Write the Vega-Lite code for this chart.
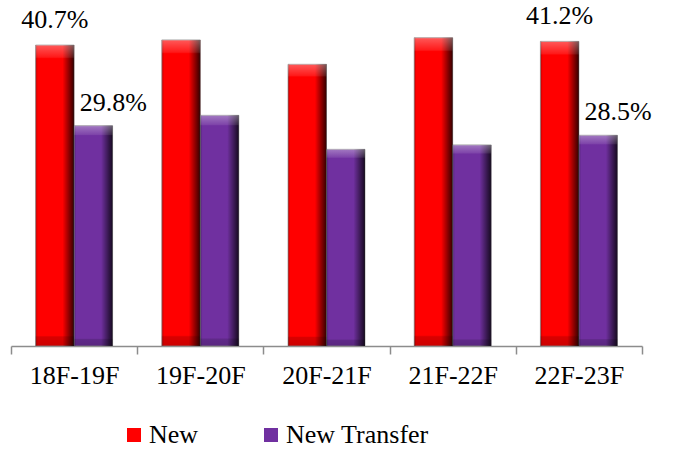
{
  "$schema": "https://vega.github.io/schema/vega-lite/v6.json",
  "width": 631,
  "height": 346,
  "autosize": {"type": "none"},
  "padding": {"left": 11, "top": 0, "right": 33, "bottom": 104},
  "background": "white",
  "config": {"view": {"stroke": null}, "font": "Liberation Serif"},
  "data": {
    "values": [
      {"period": "18F-19F", "series": "New", "value": 0.407},
      {"period": "18F-19F", "series": "New Transfer", "value": 0.298},
      {"period": "19F-20F", "series": "New", "value": 0.414},
      {"period": "19F-20F", "series": "New Transfer", "value": 0.312},
      {"period": "20F-21F", "series": "New", "value": 0.381},
      {"period": "20F-21F", "series": "New Transfer", "value": 0.266},
      {"period": "21F-22F", "series": "New", "value": 0.417},
      {"period": "21F-22F", "series": "New Transfer", "value": 0.272},
      {"period": "22F-23F", "series": "New", "value": 0.412},
      {"period": "22F-23F", "series": "New Transfer", "value": 0.285}
    ]
  },
  "encoding": {
    "x": {
      "field": "period",
      "type": "nominal",
      "sort": null,
      "scale": {"paddingInner": 0, "paddingOuter": 0},
      "axis": {
        "title": null,
        "grid": false,
        "domainColor": "#8c8c8c",
        "domainWidth": 1.5,
        "tickColor": "#8c8c8c",
        "tickWidth": 1.5,
        "tickSize": 8,
        "tickBand": "extent",
        "labelFont": "Liberation Serif",
        "labelFontSize": 26,
        "labelColor": "black",
        "labelPadding": 8,
        "labelAngle": 0
      }
    },
    "xOffset": {
      "field": "series",
      "type": "nominal",
      "sort": ["New", "New Transfer"],
      "scale": {"paddingInner": 0, "paddingOuter": 0.639}
    },
    "y": {
      "field": "value",
      "type": "quantitative",
      "scale": {"domain": [0, 0.468], "nice": false},
      "axis": null
    }
  },
  "layer": [
    {
      "mark": {"type": "bar", "stroke": "#9a9a9a", "strokeWidth": 0.8},
      "encoding": {
        "color": {
          "field": "series",
          "type": "nominal",
          "scale": {"domain": ["New", "New Transfer"], "range": ["#FF0000", "#7030A0"]},
          "legend": {
            "title": null,
            "orient": "none",
            "legendX": 110,
            "legendY": 422,
            "direction": "horizontal",
            "symbolType": "square",
            "symbolSize": 196,
            "symbolStrokeWidth": 0,
            "labelFont": "Liberation Serif",
            "labelFontSize": 26,
            "labelColor": "black",
            "labelOffset": 2,
            "columnPadding": 59,
            "labelLimit": 0
          }
        }
      }
    },
    {
      "mark": {
        "type": "bar",
        "color": {
          "gradient": "linear",
          "x1": 0, "x2": 1, "y1": 0, "y2": 0,
          "stops": [
            {"offset": 0, "color": "rgba(0,0,0,0.25)"},
            {"offset": 0.06, "color": "rgba(0,0,0,0)"},
            {"offset": 0.7, "color": "rgba(0,0,0,0)"},
            {"offset": 1, "color": "rgba(0,0,0,0.8)"}
          ]
        }
      }
    },
    {
      "mark": {
        "type": "bar",
        "color": {
          "gradient": "linear",
          "x1": 0, "x2": 0, "y1": 0, "y2": 1,
          "stops": [
            {"offset": 0, "color": "rgba(255,255,255,0.35)"},
            {"offset": 0.04, "color": "rgba(255,255,255,0.1)"},
            {"offset": 0.045, "color": "rgba(255,255,255,0)"},
            {"offset": 0.965, "color": "rgba(0,0,0,0)"},
            {"offset": 0.97, "color": "rgba(0,0,0,0.15)"},
            {"offset": 1, "color": "rgba(0,0,0,0.2)"}
          ]
        }
      }
    },
    {
      "transform": [{"filter": "datum.series === 'New' && (datum.period === '18F-19F' || datum.period === '22F-23F')"}],
      "mark": {"type": "text", "baseline": "alphabetic", "dy": -17, "fontSize": 26, "font": "Liberation Serif", "color": "black"},
      "encoding": {"text": {"field": "value", "type": "quantitative", "format": ".1%"}}
    },
    {
      "transform": [{"filter": "datum.series === 'New Transfer' && (datum.period === '18F-19F' || datum.period === '22F-23F')"}],
      "mark": {"type": "text", "baseline": "alphabetic", "dy": -15, "dx": 20, "fontSize": 26, "font": "Liberation Serif", "color": "black"},
      "encoding": {"text": {"field": "value", "type": "quantitative", "format": ".1%"}}
    }
  ]
}
